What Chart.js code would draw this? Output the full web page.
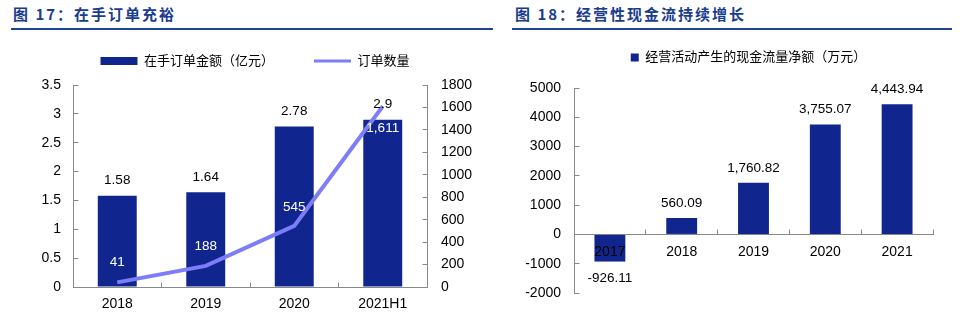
<!DOCTYPE html>
<html>
<head>
<meta charset="utf-8">
<script src="https://cdn.jsdelivr.net/npm/chart.js@4.4.0/dist/chart.umd.min.js"></script>
<style>
  html, body { margin: 0; padding: 0; background: #fff; }
  body { width: 963px; height: 315px; position: relative; overflow: hidden; }
  .titulo { position: absolute; top: 3px; font: bold 15px "Noto Sans CJK SC", sans-serif; color: #1a3c8e; letter-spacing: 2px; white-space: nowrap; line-height: 22px; }
  .raya { position: absolute; top: 28px; height: 2px; background: #1f4496; }
  .lienzo { position: absolute; top: 0; height: 315px; }
</style>
</head>
<body>
<div class="titulo" style="left:13px">图 17：在手订单充裕</div>
<div class="raya" style="left:11px;width:482px"></div>
<div class="titulo" style="left:515px">图 18：经营性现金流持续增长</div>
<div class="raya" style="left:512px;width:440px"></div>
<div class="lienzo" style="left:0;width:480px"><canvas id="graficoPedidos"></canvas></div>
<div class="lienzo" style="left:480px;width:483px"><canvas id="graficoCaja"></canvas></div>

<script>
// Datos del gráfico 17
const categoriasPedidos = ['2018', '2019', '2020', '2021H1'];
const montoPedidos = [1.58, 1.64, 2.78, 2.9];
const cantidadPedidos = [41, 188, 545, 1611];
const ticksMonto = [0, 0.5, 1, 1.5, 2, 2.5, 3, 3.5];
const ticksCantidad = [0, 200, 400, 600, 800, 1000, 1200, 1400, 1600, 1800];

// Datos del gráfico 18
const categoriasCaja = ['2017', '2018', '2019', '2020', '2021'];
const flujoCaja = [-926.11, 560.09, 1760.82, 3755.07, 4443.94];
const ticksCaja = [-2000, -1000, 0, 1000, 2000, 3000, 4000, 5000];

const AZUL = '#10268e';
const LILA = '#7d7dfa';
const GRIS = '#898989';
const FUENTE = '"Liberation Sans", "Noto Sans CJK SC", sans-serif';

document.addEventListener('DOMContentLoaded', function () {
    Chart.defaults.font.family = FUENTE;
    Chart.defaults.color = '#000';

    function fijarTicks(valores) {
        return escala => { escala.ticks = valores.map(v => ({ value: v })); };
    }
    function fijarAncho(ancho) {
        return escala => { escala.width = ancho; };
    }
    function fijarAlto(alto) {
        return escala => { escala.height = alto; };
    }

    // la leyenda de Chart.js no deja separar alto y espaciado, se fija a mano
    function ajustarLeyenda(altura, dx) {
        return {
            id: 'ajustarLeyenda',
            beforeLayout(chart) {
                const leyenda = chart.legend;
                if (!leyenda || leyenda._alturaFija) return;
                const fitOriginal = leyenda.fit;
                leyenda.fit = function () {
                    fitOriginal.call(this);
                    this.height = altura;
                };
                leyenda._alturaFija = true;
            },
            afterLayout(chart) {
                if (!dx || !chart.legend) return;
                chart.legend.left += dx;
                chart.legend.right += dx;
            }
        };
    }

    function etiquetas(series) {
        return {
            id: 'etiquetas',
            afterDatasetsDraw(chart) {
                const ctx = chart.ctx;
                ctx.save();
                ctx.textAlign = 'center';
                ctx.textBaseline = 'middle';
                ctx.font = '13.5px ' + FUENTE;
                series.forEach(s => {
                    const datos = chart.data.datasets[s.dataset].data;
                    chart.getDatasetMeta(s.dataset).data.forEach((el, i) => {
                        ctx.fillStyle = s.color;
                        ctx.fillText(s.texto(datos[i]), el.x, el.y + s.dy(datos[i], i));
                    });
                });
                ctx.restore();
            }
        };
    }

    // marcas cortas hacia dentro del área, como en Excel
    const marcasInternas = {
        id: 'marcasInternas',
        afterDraw(chart) {
            const ctx = chart.ctx;
            const area = chart.chartArea;
            const largo = 5;
            const alinear = p => Math.round(p - 0.5) + 0.5;
            ctx.save();
            ctx.strokeStyle = GRIS;
            ctx.lineWidth = 1;
            ctx.beginPath();
            Object.values(chart.scales).forEach(escala => {
                if (escala.axis === 'y') {
                    const derecha = escala.position === 'right';
                    const x = alinear(derecha ? area.right : area.left);
                    escala.ticks.forEach((t, i) => {
                        const y = alinear(escala.getPixelForTick(i));
                        ctx.moveTo(x, y);
                        ctx.lineTo(derecha ? x - largo : x + largo, y);
                    });
                } else {
                    const y = alinear(escala.options.position === 'bottom' ? area.bottom : chart.scales.y.getPixelForValue(0));
                    const mitad = (escala.getPixelForTick(1) - escala.getPixelForTick(0)) / 2;
                    escala.ticks.forEach((t, i) => {
                        const x = alinear(escala.getPixelForTick(i) + mitad);
                        ctx.moveTo(x, y);
                        ctx.lineTo(x, y - largo);
                    });
                }
            });
            ctx.stroke();
            ctx.restore();
        }
    };

    function generarLeyenda(chart) {
        return chart.data.datasets.map((ds, i) => {
            const esLinea = ds.type === 'line';
            return {
                text: ds.label,
                fillStyle: esLinea ? ds.borderColor : ds.backgroundColor,
                strokeStyle: esLinea ? ds.borderColor : ds.backgroundColor,
                lineWidth: esLinea ? 3 : 0,
                pointStyle: esLinea ? 'line' : 'rect',
                datasetIndex: i,
                hidden: false
            };
        });
    }

    const sinRejilla = { display: true, drawOnChartArea: false, drawTicks: false };
    const borde = { display: true, color: GRIS, width: 1 };

    function crearGraficoPedidos() {
        const ctx = document.getElementById('graficoPedidos').getContext('2d');
        new Chart(ctx, {
            type: 'bar',
            data: {
                labels: categoriasPedidos,
                datasets: [{
                    type: 'bar',
                    label: '在手订单金额（亿元）',
                    data: montoPedidos,
                    backgroundColor: AZUL,
                    yAxisID: 'y',
                    barPercentage: 0.44,
                    categoryPercentage: 1,
                    order: 1
                }, {
                    type: 'line',
                    label: '订单数量',
                    data: cantidadPedidos,
                    borderColor: LILA,
                    backgroundColor: LILA,
                    borderWidth: 4,
                    pointRadius: 0,
                    tension: 0,
                    yAxisID: 'y1',
                    order: 0
                }]
            },
            options: {
                responsive: true,
                maintainAspectRatio: false,
                animation: false,
                layout: { padding: { top: 14.5, right: 0, bottom: 0, left: 24 } },
                plugins: {
                    tooltip: { enabled: false },
                    legend: {
                        position: 'top',
                        labels: {
                            usePointStyle: true,
                            pointStyleWidth: 37,
                            boxHeight: 8,
                            padding: 40,
                            color: '#000',
                            font: { size: 13 },
                            generateLabels: generarLeyenda
                        }
                    }
                },
                scales: {
                    x: {
                        grid: sinRejilla,
                        border: borde,
                        ticks: { color: '#000', font: { size: 14 }, padding: 9, maxRotation: 0 },
                        afterFit: fijarAlto(28)
                    },
                    y: {
                        position: 'left',
                        min: 0,
                        max: 3.5,
                        grid: sinRejilla,
                        border: borde,
                        ticks: { color: '#000', font: { size: 14 }, padding: 12, callback: v => String(v) },
                        afterBuildTicks: fijarTicks(ticksMonto),
                        afterFit: fijarAncho(49)
                    },
                    y1: {
                        position: 'right',
                        min: 0,
                        max: 1800,
                        grid: sinRejilla,
                        border: borde,
                        ticks: { color: '#000', font: { size: 14 }, padding: 14, callback: v => String(v) },
                        afterBuildTicks: fijarTicks(ticksCantidad),
                        afterFit: fijarAncho(53)
                    }
                }
            },
            plugins: [
                ajustarLeyenda(70.5, 3),
                marcasInternas,
                etiquetas([
                    { dataset: 0, color: '#000', texto: v => String(v), dy: () => -15.5 },
                    { dataset: 1, color: '#fff', texto: v => v.toLocaleString('en-US'), dy: (v, i) => [-20, -20, -19, 22][i] }
                ])
            ]
        });
    }

    function crearGraficoCaja() {
        const ctx = document.getElementById('graficoCaja').getContext('2d');
        new Chart(ctx, {
            type: 'bar',
            data: {
                labels: categoriasCaja,
                datasets: [{
                    label: '经营活动产生的现金流量净额（万元）',
                    data: flujoCaja,
                    backgroundColor: AZUL,
                    barPercentage: 0.43,
                    categoryPercentage: 1
                }]
            },
            options: {
                responsive: true,
                maintainAspectRatio: false,
                animation: false,
                layout: { padding: { top: 41, right: 30, bottom: 22, left: 0 } },
                plugins: {
                    tooltip: { enabled: false },
                    legend: {
                        position: 'top',
                        labels: {
                            usePointStyle: true,
                            pointStyleWidth: 8,
                            boxHeight: 8,
                            padding: 10,
                            color: '#000',
                            font: { size: 13 },
                            generateLabels: generarLeyenda
                        }
                    }
                },
                scales: {
                    x: {
                        position: { y: 0 },
                        grid: sinRejilla,
                        border: borde,
                        // z 1: los años se ven encima de la barra negativa
                        ticks: { color: '#000', font: { size: 14 }, padding: 9, maxRotation: 0, z: 1 },
                        afterFit: fijarAlto(0)
                    },
                    y: {
                        position: 'left',
                        min: -2000,
                        max: 5000,
                        grid: sinRejilla,
                        border: borde,
                        ticks: { color: '#000', font: { size: 14 }, padding: 13, callback: v => String(v) },
                        afterBuildTicks: fijarTicks(ticksCaja),
                        afterFit: fijarAncho(94)
                    }
                }
            },
            plugins: [
                ajustarLeyenda(47, 42),
                marcasInternas,
                etiquetas([
                    {
                        dataset: 0,
                        color: '#000',
                        texto: v => v.toLocaleString('en-US', { minimumFractionDigits: 2, maximumFractionDigits: 2 }),
                        dy: v => (v < 0 ? 17 : -15)
                    }
                ])
            ]
        });
    }

    crearGraficoPedidos();
    crearGraficoCaja();
});
</script>
</body>
</html>
